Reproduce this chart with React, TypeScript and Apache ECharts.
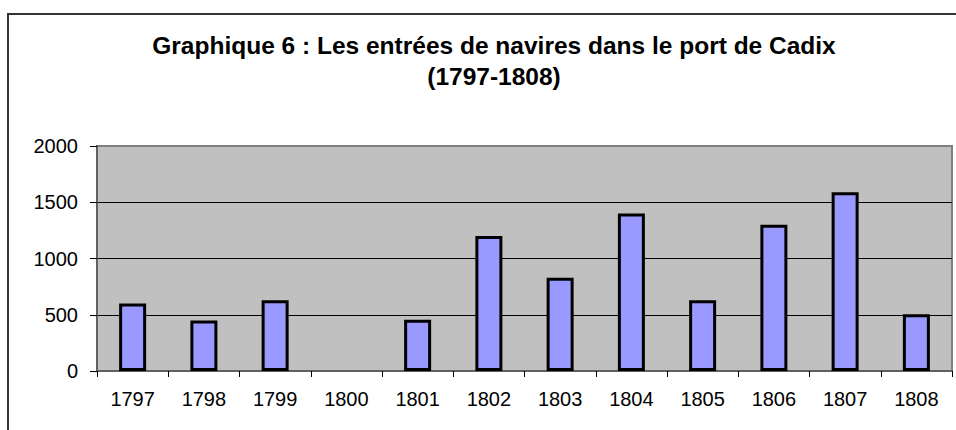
import React, { useEffect, useRef } from "react";
import * as echarts from "echarts";

const titleLines = ["Graphique 6 : Les entrées de navires dans le port de Cadix", "(1797-1808)"];
const years = ["1797", "1798", "1799", "1800", "1801", "1802", "1803", "1804", "1805", "1806", "1807", "1808"];
const entries: (number | null)[] = [600, 450, 630, null, 455, 1200, 830, 1400, 630, 1300, 1590, 505];
const yTicks = { min: 0, max: 2000, interval: 500 };

const FONT = "'Liberation Sans', Arial, sans-serif";

export default function App() {
  const ref = useRef<HTMLDivElement>(null);
  useEffect(() => {
    document.body.style.margin = "0";
    const chart = echarts.init(ref.current!, null, { renderer: "svg" });
    chart.setOption({
      animation: false,
      backgroundColor: "#ffffff",
      title: {
        text: titleLines.join("\n"),
        left: 489,
        top: 25,
        textAlign: "center",
        textStyle: {
          fontFamily: FONT,
          fontSize: 24.5,
          fontWeight: "bold",
          color: "#000",
          lineHeight: 31,
        },
      },
      graphic: [
        {
          type: "rect",
          shape: { x: 8, y: 14, width: 1000, height: 500 },
          style: { fill: "none", stroke: "#333333", lineWidth: 2 },
          z: 100,
        },
      ],
      grid: {
        left: 97,
        right: 4,
        top: 146,
        bottom: 59,
        show: true,
        backgroundColor: "#c0c0c0",
        borderColor: "#808080",
        borderWidth: 2,
      },
      xAxis: {
        type: "category",
        data: years,
        axisLine: { show: true, lineStyle: { color: "#606060", width: 2 } },
        axisTick: { show: true, length: 6, lineStyle: { color: "#000", width: 1 } },
        axisLabel: { fontFamily: FONT, fontSize: 20, color: "#000", margin: 18 },
        splitLine: { show: false },
      },
      yAxis: {
        type: "value",
        min: yTicks.min,
        max: yTicks.max,
        interval: yTicks.interval,
        axisLine: { show: true, lineStyle: { color: "#606060", width: 2 } },
        axisTick: { show: true, length: 7, lineStyle: { color: "#000", width: 1 } },
        axisLabel: {
          fontFamily: FONT,
          fontSize: 20,
          color: "#000",
          margin: 19,
          formatter: (v: number) => String(v),
        },
        splitLine: { show: true, showMinLine: false, showMaxLine: false, lineStyle: { color: "#000", width: 1 } },
      },
      series: [
        {
          type: "bar",
          data: entries,
          barWidth: 27,
          itemStyle: { color: "#9999ff", borderColor: "#000", borderWidth: 3 },
        },
      ],
    });
    return () => chart.dispose();
  }, []);
  return <div ref={ref} style={{ width: 956, height: 430 }} />;
}
